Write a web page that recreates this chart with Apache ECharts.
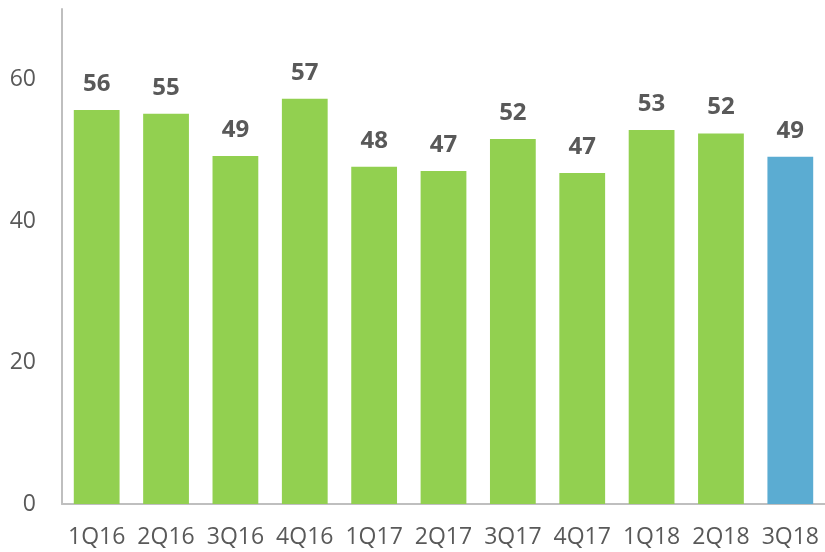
<!DOCTYPE html>
<html>
<head>
<meta charset="utf-8">
<script src="https://cdn.jsdelivr.net/npm/echarts@6/dist/echarts.min.js"></script>
<style>
  html, body { margin: 0; padding: 0; background: #fff; }
  #chart { width: 825px; height: 552px; }
</style>
</head>
<body>
<div id="chart"></div>
<script>
var quarters = ['1Q16', '2Q16', '3Q16', '4Q16', '1Q17', '2Q17', '3Q17', '4Q17', '1Q18', '2Q18', '3Q18'];
var values = [55.7, 55.2, 49.2, 57.3, 47.7, 47.1, 51.6, 46.8, 52.9, 52.4, 49.1];
var highlightIndex = 10;

var green = '#92D050', blue = '#5BACD2';
var textGray = '#595959';
var font = '"Open Sans", "Liberation Sans", sans-serif';

var chart = echarts.init(document.getElementById('chart'));

var barData = values.map(function (v, i) {
    return {value: v, itemStyle: {color: i === highlightIndex ? blue : green}};
});

var option = {
    animation: false,
    grid: {left: 62, right: -3, top: 9, bottom: 48, containLabel: false},
    xAxis: {
        type: 'category',
        data: quarters,
        axisLine: {lineStyle: {color: '#BFBFBF', width: 2}},
        axisTick: {show: false},
        axisLabel: {color: textGray, fontSize: 23, fontFamily: font, margin: 22, interval: 0}
    },
    yAxis: {
        type: 'value',
        min: 0,
        max: 70,
        interval: 20,
        axisLine: {show: true, lineStyle: {color: '#BFBFBF', width: 2}},
        axisTick: {show: false},
        splitLine: {show: false},
        axisLabel: {color: textGray, fontSize: 23, fontFamily: font, margin: 26,
            formatter: function (v) { return v % 20 === 0 ? v : ''; }}
    },
    series: [{
        type: 'bar',
        data: barData,
        barWidth: '66%',
        label: {
            show: true,
            position: 'top',
            distance: 14,
            color: textGray,
            fontSize: 24,
            fontWeight: 'bold',
            fontFamily: font,
            formatter: function (p) { return Math.round(p.value); }
        }
    }]
};

chart.setOption(option);
</script>
</body>
</html>
